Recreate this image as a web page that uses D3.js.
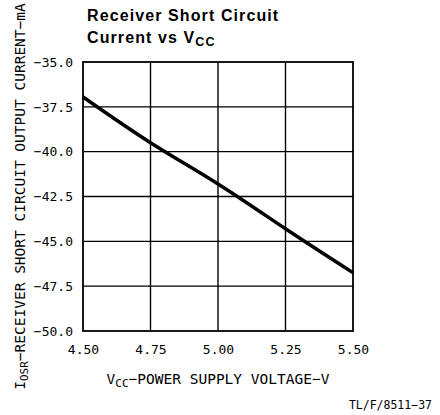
<!DOCTYPE html>
<html>
<head>
<meta charset="utf-8">
<script src="https://cdn.jsdelivr.net/npm/d3@7"></script>
<style>
    body { margin: 0; background: #fff; }
    svg { display: block; }
</style>
</head>
<body>
<svg id="chart"></svg>
<script>
// supply voltage (V) and receiver short circuit current (mA)
var voltage = [4.50, 4.75, 5.00, 5.25, 5.50];
var current = [-36.95, -39.5, -41.8, -44.3, -46.75];

var xTicks = [4.50, 4.75, 5.00, 5.25, 5.50];
var yTicks = [-35.0, -37.5, -40.0, -42.5, -45.0, -47.5, -50.0];

var width = 440,
    height = 415;

var margin = { left: 83, right: 87, top: 62, bottom: 84 };
var plotW = width - margin.left - margin.right,
    plotH = height - margin.top - margin.bottom;

var mono = '"DejaVu Sans Mono", monospace';

var svg = d3.select('#chart')
    .attr('width', width)
    .attr('height', height);

var x = d3.scaleLinear().domain([4.5, 5.5]).range([0, plotW]);
var y = d3.scaleLinear().domain([-35, -50]).range([0, plotH]);

var g = svg.append('g')
    .attr('transform', 'translate(' + margin.left + ',' + margin.top + ')');

// grid
g.append('g').selectAll('line')
    .data(xTicks.slice(1, -1)).enter()
    .append('line')
    .attr('x1', d => x(d)).attr('x2', d => x(d))
    .attr('y1', 0).attr('y2', plotH)
    .attr('stroke', '#000').attr('stroke-width', 1.4);

g.append('g').selectAll('line')
    .data(yTicks.slice(1, -1)).enter()
    .append('line')
    .attr('y1', d => y(d)).attr('y2', d => y(d))
    .attr('x1', 0).attr('x2', plotW)
    .attr('stroke', '#000').attr('stroke-width', 1.4);

g.append('rect')
    .attr('width', plotW)
    .attr('height', plotH)
    .attr('fill', 'none')
    .attr('stroke', '#000')
    .attr('stroke-width', 1.8);

// axes (labels only)
var xAxis = d3.axisBottom(x)
    .tickValues(xTicks)
    .tickFormat(d3.format('.2f'))
    .tickSize(0)
    .tickPadding(14);

var yAxis = d3.axisLeft(y)
    .tickValues(yTicks)
    .tickFormat(d3.format('.1f'))
    .tickSize(0)
    .tickPadding(10);

g.append('g')
    .attr('transform', 'translate(0,' + plotH + ')')
    .call(xAxis)
    .call(a => a.select('.domain').remove())
    .selectAll('text')
    .attr('font-family', mono)
    .attr('font-size', 13)
    .attr('fill', '#000');

g.append('g')
    .call(yAxis)
    .call(a => a.select('.domain').remove())
    .selectAll('text')
    .attr('font-family', mono)
    .attr('font-size', 13)
    .attr('fill', '#000');

// curve
var line = d3.line()
    .x((d, i) => x(voltage[i]))
    .y(d => y(d))
    .curve(d3.curveNatural);

g.append('path')
    .datum(current)
    .attr('d', line)
    .attr('fill', 'none')
    .attr('stroke', '#000')
    .attr('stroke-width', 3.5);

// title
var title = svg.append('text')
    .attr('font-family', '"Liberation Sans", Arial, sans-serif')
    .attr('font-weight', 'bold')
    .attr('font-size', 16)
    .attr('letter-spacing', 1.1)
    .attr('fill', '#000');
title.append('tspan').attr('x', 87).attr('y', 20.5).text('Receiver Short Circuit');
title.append('tspan').attr('x', 87).attr('y', 43).text('Current vs V');
title.append('tspan').attr('dy', 3).attr('font-size', 12.5).text('CC');

// x axis title
var xt = svg.append('text')
    .attr('x', margin.left + plotW / 2)
    .attr('y', 384)
    .attr('text-anchor', 'middle')
    .attr('font-family', mono)
    .attr('font-size', 14.5)
    .attr('fill', '#000');
xt.append('tspan').text('V');
xt.append('tspan').attr('dy', 3).attr('font-size', 11).text('CC');
xt.append('tspan').attr('dy', -3).text('\u2212POWER SUPPLY VOLTAGE\u2212V');

// y axis title
var yt = svg.append('text')
    .attr('transform', 'translate(25,' + (margin.top + plotH / 2) + ') rotate(-90)')
    .attr('text-anchor', 'middle')
    .attr('font-family', mono)
    .attr('font-size', 14.5)
    .attr('fill', '#000');
yt.append('tspan').text('I');
yt.append('tspan').attr('dy', 3).attr('font-size', 11).text('OSR');
yt.append('tspan').attr('dy', -3).text('\u2212RECEIVER SHORT CIRCUIT OUTPUT CURRENT\u2212mA');

// figure id
svg.append('text')
    .attr('x', 432)
    .attr('y', 409)
    .attr('text-anchor', 'end')
    .attr('font-family', mono)
    .attr('font-size', 11.5)
    .attr('fill', '#000')
    .text('TL/F/8511\u221237');
</script>
</body>
</html>
